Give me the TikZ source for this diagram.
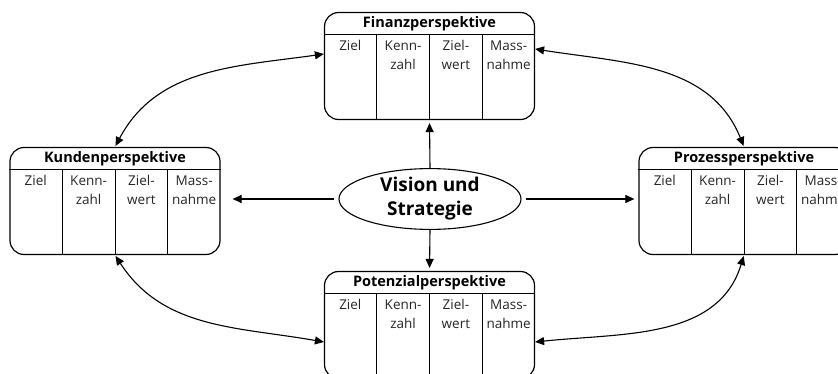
\documentclass[tikz,border=0pt]{standalone}
\usepackage{fontspec}
\setmainfont{Open Sans}
\usetikzlibrary{calc,shapes.geometric,arrows.meta}

\tikzset{
  pbox/.style={draw, line width=1.2pt, rounded corners=14pt,
    minimum width=210pt, minimum height=107pt, inner sep=0pt},
  ptitle/.style={font=\fontsize{14.5}{16}\selectfont\bfseries, inner sep=0pt},
  pcol/.style={font=\fontsize{13.5}{19}\selectfont, align=center, inner sep=0pt,
    anchor=north, text=black!85},
  pline/.style={line width=1pt},
  arr/.style={line width=1.1pt, -{Triangle[length=9pt,width=8pt]}},
  darr/.style={line width=1.1pt, {Triangle[length=9pt,width=8pt]}-{Triangle[length=9pt,width=8pt]}},
}

% one perspective box: name, centre, title
\newcommand\perspbox[3]{%
  \node[pbox] (#1) at (#2) {};
  \draw[pline] ([yshift=-23pt]#1.north west) -- ([yshift=-23pt]#1.north east);
  \node[ptitle] (#1-t) at ([yshift=-11.5pt]#1.north) {#3};
  \foreach \k in {1,2,3}
    \draw[pline] ($(#1.north west)!\k/4!(#1.north east)+(0,-23pt)$)
      -- ($(#1.south west)!\k/4!(#1.south east)$);
  \node[pcol] (#1-c1) at ($(#1.north west)!0.125!(#1.north east)+(0,-28.5pt)$) {Ziel};
  \node[pcol] (#1-c2) at ($(#1.north west)!0.375!(#1.north east)+(0,-28.5pt)$) {Kenn-\\zahl};
  \node[pcol] (#1-c3) at ($(#1.north west)!0.625!(#1.north east)+(0,-28.5pt)$) {Ziel-\\wert};
  \node[pcol] (#1-c4) at ($(#1.north west)!0.875!(#1.north east)+(0,-28.5pt)$) {Mass-\\nahme};
}

\begin{document}
\begin{tikzpicture}[x=1pt, y=-1pt]
  \useasboundingbox (0,0) rectangle (838,374);
  \clip (0,0) rectangle (838,374);

  \perspbox{fin}{429.5,66}{Finanzperspektive}
  \perspbox{kun}{115,201}{Kundenperspektive}
  \perspbox{pro}{744,201}{Prozessperspektive}
  \perspbox{pot}{429.5,325}{Potenzialperspektive}

  \node[draw, ellipse, line width=1.1pt, minimum width=182pt, minimum height=56pt,
    inner sep=0pt, align=center,
    font=\fontsize{19}{24}\selectfont\bfseries] (vis) at (430,199) {Vision und\\Strategie};

  % from the centre outwards
  \draw[arr, shorten >=3pt] (vis.north) -- (fin.south);
  \draw[arr, shorten >=3pt] (vis.south) -- (pot.north);
  \draw[arr, shorten <=4pt, shorten >=12pt] (vis.west) -- (vis.west -| kun.east);
  \draw[arr, shorten <=4pt, shorten >=4pt] (vis.east) -- (vis.east -| pro.west);

  % links between neighbouring perspectives
  \draw[darr, shorten <=1pt] (kun.north) to[out=62, in=188] ([yshift=12pt]fin.west);
  \draw[darr, shorten >=1pt] ([yshift=17pt]fin.east) to[out=-9, in=112] (pro.north);
  \draw[darr, shorten <=1pt] (kun.south) to[out=-57, in=170] ([yshift=-17pt]pot.west);
  \draw[darr, shorten >=1pt] ([yshift=-17pt]pot.east) to[out=6, in=-107] (pro.south);
\end{tikzpicture}
\end{document}
